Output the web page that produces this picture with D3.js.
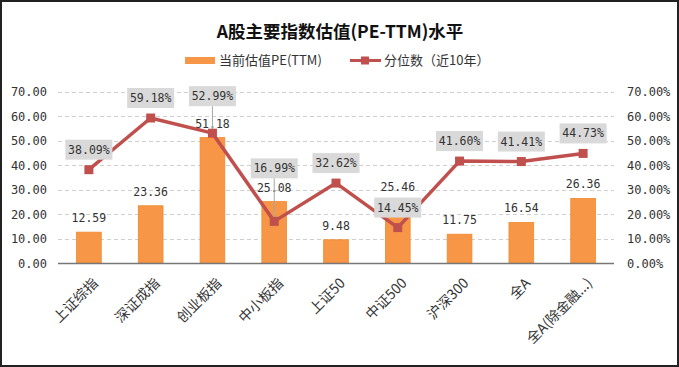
<!DOCTYPE html>
<html>
<head>
<meta charset="utf-8">
<script src="https://cdn.jsdelivr.net/npm/d3@7"></script>
<style>
  body { margin: 0; background: #fff; }
  svg { display: block; }
  .num { font-family: "DejaVu Sans Mono", "Liberation Mono", monospace; font-size: 12px; fill: #333; }
  .cjk { font-family: "Noto Sans CJK SC", sans-serif; }
</style>
</head>
<body>
<div id="chart"></div>
<script>
// categories and series
var categories = ["上证综指", "深证成指", "创业板指", "中小板指", "上证50", "中证500", "沪深300", "全A", "全A(除金融...)"];
var peValues = [12.59, 23.36, 51.18, 25.08, 9.48, 25.46, 11.75, 16.54, 26.36];
var pctValues = [38.09, 59.18, 52.99, 16.99, 32.62, 14.45, 41.60, 41.41, 44.73];
var leftTicks = [0, 10, 20, 30, 40, 50, 60, 70];
var rightTicks = [0, 10, 20, 30, 40, 50, 60, 70];

var width = 679, height = 367;
var margin = {top: 91.5, right: 65, bottom: 104, left: 58};
var barColor = "#f79646", lineColor = "#c0504d";

var svg = d3.select("#chart").append("svg")
    .attr("width", width)
    .attr("height", height);

// outer frame
svg.append("rect")
    .attr("x", 1).attr("y", 1)
    .attr("width", width - 2).attr("height", height - 2)
    .attr("fill", "#fff")
    .attr("stroke", "#222")
    .attr("stroke-width", 2);

var x = d3.scaleBand()
    .domain(categories)
    .range([margin.left, width - margin.right])
    .paddingInner(0.6)
    .paddingOuter(0.3);

var yL = d3.scaleLinear().domain([0, 70]).range([height - margin.bottom, margin.top]);
var yR = d3.scaleLinear().domain([0, 70]).range([height - margin.bottom, margin.top]);

// title
svg.append("text")
    .attr("class", "cjk")
    .attr("x", 340).attr("y", 38)
    .attr("text-anchor", "middle")
    .style("font-size", "17.5px")
    .style("font-weight", "bold")
    .attr("fill", "#111")
    .text("A股主要指数估值(PE-TTM)水平");

// legend
var lg = svg.append("g").attr("class", "cjk").style("font-size", "13px").attr("fill", "#333");
lg.append("rect").attr("x", 185).attr("y", 57).attr("width", 30).attr("height", 7).attr("fill", barColor);
lg.append("text").attr("x", 219).attr("y", 65).text("当前估值PE(TTM)");
lg.append("line").attr("x1", 350).attr("x2", 381).attr("y1", 60.5).attr("y2", 60.5)
    .attr("stroke", lineColor).attr("stroke-width", 3);
lg.append("rect").attr("x", 361).attr("y", 56.5).attr("width", 8).attr("height", 8).attr("fill", lineColor);
lg.append("text").attr("x", 384).attr("y", 65).text("分位数（近10年）");

// gridlines
svg.append("g")
  .selectAll("line")
    .data(leftTicks.slice(1))
  .enter().append("line")
    .attr("x1", margin.left).attr("x2", width - margin.right)
    .attr("y1", function(d) { return Math.round(yL(d)) + 0.5; })
    .attr("y2", function(d) { return Math.round(yL(d)) + 0.5; })
    .attr("stroke", "#cfcfcf")
    .attr("stroke-dasharray", "4,3");

// left axis
var axL = svg.append("g")
    .attr("transform", "translate(" + (margin.left - 8) + ",0)")
    .call(d3.axisLeft(yL).tickValues(leftTicks).tickSize(0).tickFormat(d3.format(".2f")));
axL.select(".domain").remove();
axL.selectAll("text").attr("class", "num").attr("fill", "#333").attr("dy", "0.35em");

// right axis
var axR = svg.append("g")
    .attr("transform", "translate(" + (width - margin.right + 10) + ",0)")
    .call(d3.axisRight(yR).tickValues(rightTicks).tickSize(0).tickFormat(function(d) { return d.toFixed(2) + "%"; }));
axR.select(".domain").remove();
axR.selectAll("text").attr("class", "num").attr("fill", "#333").attr("dy", "0.35em");

// bars
svg.append("g")
  .selectAll("rect")
    .data(peValues)
  .enter().append("rect")
    .attr("x", function(d, i) { return x(categories[i]); })
    .attr("y", function(d) { return yL(d); })
    .attr("width", x.bandwidth())
    .attr("height", function(d) { return yL(0) - yL(d); })
    .attr("fill", barColor)
    .attr("stroke", "#f08a2c")
    .attr("stroke-width", 0.8);

// bar labels
svg.append("g")
  .selectAll("text")
    .data(peValues)
  .enter().append("text")
    .attr("class", "num")
    .attr("x", function(d, i) { return x(categories[i]) + x.bandwidth() / 2; })
    .attr("y", function(d) { return yL(d) - 10; })
    .attr("text-anchor", "middle")
    .style("font-size", "11.5px")
    .text(function(d) { return d.toFixed(2); });

// x axis line
svg.append("line")
    .attr("x1", margin.left).attr("x2", width - margin.right)
    .attr("y1", yL(0) + 0.5).attr("y2", yL(0) + 0.5)
    .attr("stroke", "#777").attr("stroke-width", 1.5);

// category labels
svg.append("g")
  .selectAll("text")
    .data(categories)
  .enter().append("text")
    .attr("class", "cjk")
    .attr("transform", function(d) {
      return "translate(" + (x(d) + x.bandwidth() / 2 + 10) + "," + (yL(0) + 21) + ") rotate(-45)";
    })
    .attr("text-anchor", "end")
    .style("font-size", "14px")
    .attr("fill", "#333")
    .text(function(d) { return d; });

// percentile line
var cx = function(i) { return x(categories[i]) + x.bandwidth() / 2; };
var line = d3.line()
    .x(function(d, i) { return cx(i); })
    .y(function(d) { return yR(d); });

svg.append("path")
    .datum(pctValues)
    .attr("d", line)
    .attr("fill", "none")
    .attr("stroke", lineColor)
    .attr("stroke-width", 3.5)
    .attr("stroke-linejoin", "round");

// how far above each point its label box sits (moved by hand in the source for some)
var labelLift = [20, 20, 37, 53, 20, 20, 20, 20, 20];

var pl = svg.append("g")
  .selectAll("g")
    .data(pctValues)
  .enter().append("g");

// leader lines for the labels that were dragged away
pl.filter(function(d, i) { return labelLift[i] > 25; })
  .append("line")
    .attr("x1", function(d) { return cx(pctValues.indexOf(d)); })
    .attr("x2", function(d) { return cx(pctValues.indexOf(d)); })
    .attr("y1", function(d) { return yR(d) - labelLift[pctValues.indexOf(d)] + 10; })
    .attr("y2", function(d) { return yR(d); })
    .attr("stroke", "#a6a6a6")
    .attr("stroke-width", 1);

svg.append("g")
  .selectAll("rect")
    .data(pctValues)
  .enter().append("rect")
    .attr("x", function(d, i) { return cx(i) - 4.5; })
    .attr("y", function(d) { return yR(d) - 4.5; })
    .attr("width", 9).attr("height", 9)
    .attr("fill", lineColor);

pl.append("rect")
    .attr("x", function(d, i) { return cx(i) - 23.5; })
    .attr("y", function(d, i) { return yR(d) - labelLift[i] - 10; })
    .attr("width", 47).attr("height", 20)
    .attr("fill", "#d9d9d9");

pl.append("text")
    .attr("class", "num")
    .attr("x", function(d, i) { return cx(i); })
    .attr("y", function(d, i) { return yR(d) - labelLift[i]; })
    .attr("dy", "0.35em")
    .attr("text-anchor", "middle")
    .style("font-size", "11.5px")
    .text(function(d) { return d.toFixed(2) + "%"; });
</script>
</body>
</html>
